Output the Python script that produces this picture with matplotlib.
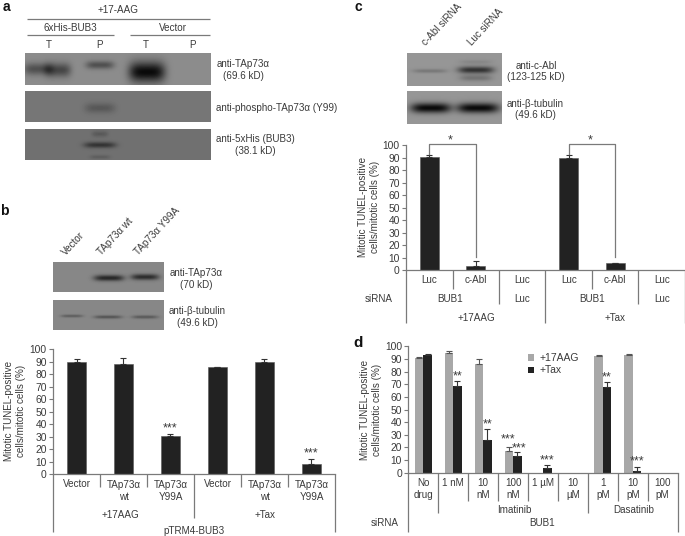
import numpy as np
import matplotlib
matplotlib.use('Agg')
import matplotlib.pyplot as plt

plt.rcParams['font.family'] = ['Liberation Sans', 'DejaVu Sans']
plt.rcParams['font.size'] = 7.1

W, H = 685, 536
TXT = '#3a3a3a'
LINE = '#7a7a7a'
DARK = '#222222'
GREY = '#a8a8a8'

# panel b
b_labels = ['Vector', 'TAp73α\nwt', 'TAp73α\nY99A', 'Vector', 'TAp73α\nwt', 'TAp73α\nY99A']
b_values = [90, 88.5, 31, 85.5, 90, 8]
b_errors = [2, 4.5, 1, 0.7, 2, 4]
b_star_x = [2, 5]
b_star_y = [37, 16.5]

# panel c
c_labels = ['Luc', 'c-Abl', 'Luc', 'Luc', 'c-Abl', 'Luc']
c_values = [91, 3.5, 0, 90, 5.5, 0]
c_errors = [1.2, 4, 0, 2, 0.5, 0]

# panel d
d_labels = ['No\ndrug', '1 nM', '10\nnM', '100\nnM', '1 µM', '10\nµM', '1\npM', '10\npM', '100\npM']
d_aag = [90.5, 95, 86, 17, 0, 0, 92.5, 93, 0]
d_aag_err = [1, 1, 4, 3, 0, 0, 0.7, 1.2, 0]
d_tax = [93, 68.5, 25.5, 13, 4, 0, 68, 1.5, 0]
d_tax_err = [1, 4, 9, 3.5, 2, 0, 4, 3, 0]
d_star_x = [1.14, 2.14, 2.84, 3.2, 4.14, 6.14, 7.14]
d_star_y = [76, 38, 26, 19.5, 10, 75, 9]
d_star_txt = ['**', '**', '***', '***', '***', '**', '***']

fig = plt.figure(figsize=(W / 100, H / 100), dpi=100)
over = fig.add_axes([0, 0, 1, 1], zorder=5)
over.set_axis_off()
over.patch.set_alpha(0)


def chart_axes(x0, x1, y100, y0):
    ax = fig.add_axes([x0 / W, 1 - y0 / H, (x1 - x0) / W, (y0 - y100) / H])
    ax.set_ylim(0, 100)
    ax.set_yticks(range(0, 101, 10))
    for s in ['top', 'right']:
        ax.spines[s].set_visible(False)
    for s in ['left', 'bottom']:
        ax.spines[s].set_color(LINE)
        ax.spines[s].set_linewidth(0.9)
    ax.tick_params(axis='y', colors=TXT, color=LINE, length=3, width=0.8, pad=1.5, labelsize=7.4)
    ax.set_xticks([])
    ax.patch.set_alpha(0)
    return ax


def up_err(ax, x, v, e, col='#333333'):
    x, v, e = np.array(x, float), np.array(v, float), np.array(e, float)
    m = e > 0
    ax.errorbar(x[m], v[m], yerr=[np.zeros(m.sum()), e[m]], fmt='none', ecolor=col,
                elinewidth=0.8, capsize=2, capthick=0.8)


def blot(x0, x1, y0, y1, base, bands):
    xx, yy = np.meshgrid(np.arange(x0, x1) + 0.5, np.arange(y0, y1) + 0.5)
    img = np.full(xx.shape, float(base))
    for cx, cy, wx, wy, d in bands:
        img -= d * np.exp(-((xx - cx) / wx) ** 4 - ((yy - cy) / wy) ** 2)
    over.imshow(np.clip(img, 0, 255), cmap='gray', vmin=0, vmax=255, aspect='auto',
                extent=(x0, x1, y1, y0), interpolation='bilinear')


def seg(x0, y0, x1, y1, lw=0.9):
    over.plot([x0, x1], [y0, y1], color=LINE, lw=lw, solid_capstyle='butt')


def t(x, y, s, ha='center', **kw):
    kw.setdefault('color', TXT)
    kw.setdefault('va', 'center')
    over.text(x, y, s, ha=ha, **kw)


# blots
blot(25, 211, 53, 85, 140, [(38, 69, 14, 6, 60), (58, 70, 13, 7, 70), (100, 65, 14, 4, 60), (147, 72, 18, 10, 130)])
blot(25, 211, 91, 122, 118, [(100, 108, 15, 5, 30)])
blot(25, 211, 129, 160, 112, [(100, 145, 16, 3, 60), (100, 134, 8, 3, 22), (100, 157, 10, 2, 18)])
blot(53, 164, 262, 292, 135, [(109, 278, 15, 3, 95), (145, 277, 14, 3, 90)])
blot(53, 164, 300, 330, 135, [(72, 316, 11, 1.5, 40), (108, 317, 14, 1.7, 50), (145, 317, 13, 1.7, 45)])
blot(407, 502, 53, 86, 150, [(430, 71, 17, 2, 30), (476, 70, 18, 3.5, 100), (476, 78, 16, 3, 35), (476, 62, 16, 2, 15)])
blot(407, 502, 91, 124, 150, [(431, 108, 20, 5, 140), (478, 108, 21, 5, 140)])

over.set_xlim(0, W)
over.set_ylim(H, 0)

# panel a text
t(6, 7, 'a', weight='bold', size=10, color='#111111')
t(118, 10, '+17-AAG')
seg(27, 18.5, 210, 18.5)
t(70, 28, '6xHis-BUB3')
t(173, 28, 'Vector')
seg(27, 35, 114, 35)
seg(130, 35, 210, 35)
for x, s in zip([49, 100, 146, 193], ['T', 'P', 'T', 'P']):
    t(x, 45, s)
t(243, 64, 'anti-TAp73α')
t(243, 76, '(69.6 kD)')
t(216, 108, 'anti-phospho-TAp73α (Y99)', ha='left')
t(216, 139, 'anti-5xHis (BUB3)', ha='left')
t(255, 151, '(38.1 kD)')

# panel b
t(4, 211, 'b', weight='bold', size=10, color='#111111')
for x, s in zip([67, 103, 140], ['Vector', 'TAp73α wt', 'TAp73α Y99A']):
    over.text(x, 257, s, rotation=47, ha='left', va='bottom', rotation_mode='anchor', color=TXT)
t(196, 273, 'anti-TAp73α')
t(196, 285, '(70 kD)')
t(197, 311, 'anti-β-tubulin')
t(197, 323, '(49.6 kD)')

ax_b = chart_axes(53, 335, 349.3, 474.3)
ax_b.set_xlim(-0.5, 5.5)
ax_b.bar(range(6), b_values, width=0.41, color=DARK, edgecolor='#555555', linewidth=0.4)
up_err(ax_b, range(6), b_values, b_errors)
for x, y in zip(b_star_x, b_star_y):
    ax_b.text(x, y, '***', ha='center', va='center', color=TXT, size=9)
for i, s in enumerate(b_labels):
    t(53 + 47 * (i + 0.5), 484 if '\n' not in s else 490.5, s, linespacing=1.25)
for x, y in [(53, 532), (100, 487), (147, 487), (194, 518), (241, 487), (288, 487), (335, 532)]:
    seg(x, 474.3, x, y)
t(120, 515, '+17AAG')
t(265, 515, '+Tax')
t(194, 531, 'pTRM4-BUB3')
t(15, 411, 'Mitotic TUNEL-positive\ncells/mitotic cells (%)', rotation=90, linespacing=1.3)

# panel c
t(358, 7, 'c', weight='bold', size=10, color='#111111')
for x, s in zip([427, 473], ['c-Abl siRNA', 'Luc siRNA']):
    over.text(x, 47, s, rotation=47, ha='left', va='bottom', rotation_mode='anchor', color=TXT)
t(536, 66, 'anti-c-Abl')
t(536, 77, '(123-125 kD)')
t(535, 104, 'anti-β-tubulin')
t(535, 115, '(49.6 kD)')

ax_c = chart_axes(406, 685, 145.3, 270.3)
ax_c.set_xlim(-0.5, 5.5)
ax_c.bar(range(6), c_values, width=0.41, color=DARK, edgecolor='#555555', linewidth=0.4)
up_err(ax_c, range(6), c_values, c_errors)
for a in [0, 3]:
    ax_c.plot([a, a, a + 1, a + 1], [93, 101, 101, 11], color=LINE, lw=0.9, clip_on=False)
    ax_c.text(a + 0.45, 104, '*', ha='center', va='center', color=TXT, size=9)
for i, s in enumerate(c_labels):
    t(406 + 46.5 * (i + 0.5), 280, s)
for x, y in [(406, 323), (453, 289), (499, 304), (545, 323), (592, 289), (638, 304), (685, 323)]:
    seg(x, 270.3, x, y)
t(379, 299, 'siRNA')
for x, s in zip([450, 522, 592, 662], ['BUB1', 'Luc', 'BUB1', 'Luc']):
    t(x, 299, s)
t(476, 318, '+17AAG')
t(615, 318, '+Tax')
t(369, 207, 'Mitotic TUNEL-positive\ncells/mitotic cells (%)', rotation=90, linespacing=1.3)

# panel d
t(358, 343, 'd', weight='bold', size=11, color='#111111')
ax_d = chart_axes(408.3, 677.7, 346.3, 472.7)
ax_d.set_xlim(-0.5, 8.5)
x_d = np.arange(9)
bw = 0.285
ax_d.bar(x_d - bw / 2, d_aag, width=bw, color=GREY, label='+17AAG')
ax_d.bar(x_d + bw / 2, d_tax, width=bw, color=DARK, label='+Tax')
up_err(ax_d, x_d - bw / 2, d_aag, d_aag_err, '#555555')
up_err(ax_d, x_d + bw / 2, d_tax, d_tax_err)
for x, y, s in zip(d_star_x, d_star_y, d_star_txt):
    ax_d.text(x, y, s, ha='center', va='center', color=TXT, size=9)
ax_d.legend(loc='upper left', bbox_to_anchor=(0.425, 0.985), frameon=False, fontsize=7.5, handlelength=0.6,
            handleheight=0.6, handletextpad=0.5, labelspacing=0.2, borderpad=0, labelcolor=TXT)
for i, s in enumerate(d_labels):
    t(408.3 + 29.93 * (i + 0.5), 483 if '\n' not in s else 489, s, linespacing=1.2)
for x, y in [(408, 532), (438, 513), (468, 501), (498, 501), (528, 501), (558, 501), (588, 513), (618, 501), (648, 501), (678, 532)]:
    seg(x, 472.7, x, y)
t(514, 510, 'Imatinib')
t(634, 510, 'Dasatinib')
t(385, 523, 'siRNA')
t(542, 523, 'BUB1')
t(371, 410, 'Mitotic TUNEL-positive\ncells/mitotic cells (%)', rotation=90, linespacing=1.3)

fig.savefig('out.png', dpi=100)
